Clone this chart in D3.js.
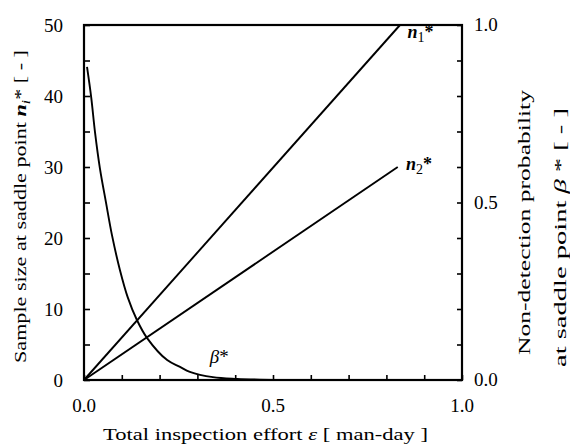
<!DOCTYPE html>
<html>
<head>
<meta charset="utf-8">
<script src="https://cdn.jsdelivr.net/npm/d3@7"></script>
<style>
	body { margin: 0; background: #fff; }
</style>
</head>
<body>
<div id="chart"></div>
<script>
let width = 570,
	height = 447;

let margin = { left: 84, right: 108, top: 25, bottom: 67 };
let serif = "'Liberation Serif'";

// n1* and n2* (straight lines) [effort, sample size]
let n1Data = [[0, 0], [0.836, 50]];
let n2Data = [[0, 0], [0.83, 30]];

// beta* [effort, probability]
let betaEffort = [0.008, 0.019, 0.029, 0.042, 0.058, 0.074, 0.095, 0.116, 0.140, 0.167, 0.220, 0.254, 0.280, 0.341, 0.405, 0.52];
let betaValue  = [0.882, 0.797, 0.699, 0.597, 0.501, 0.408, 0.310, 0.232, 0.169, 0.118, 0.056, 0.037, 0.023, 0.008, 0.003, 0.0];

let xTicks = [0, 0.5, 1.0];
let leftTicks = [0, 10, 20, 30, 40, 50];
let rightTicks = [0, 0.5, 1.0];

let svg = d3.select('#chart').append('svg')
	.attr('width', width)
	.attr('height', height);

function txt(sel) {
	return sel.append('text').style('font-family', serif).attr('fill', '#000');
}

let x = d3.scaleLinear().domain([0, 1]).range([margin.left, width - margin.right]);
let yL = d3.scaleLinear().domain([0, 50]).range([height - margin.bottom, margin.top]);
let yR = d3.scaleLinear().domain([0, 1]).range([height - margin.bottom, margin.top]);

// tick marks (inward, no labels)
let bottomAxis = d3.axisTop(x).tickValues(d3.range(0, 1.01, 0.1)).tickSize(5).tickFormat('');
let leftAxis = d3.axisRight(yL).tickValues(d3.range(0, 51, 5)).tickSize(6).tickFormat('');
let rightAxis = d3.axisLeft(yR).tickValues(d3.range(0, 1.01, 0.1)).tickSize(5).tickFormat('');

svg.append('g').attr('transform', 'translate(0,' + yL(0) + ')').call(bottomAxis);
svg.append('g').attr('transform', 'translate(' + x(0) + ',0)').call(leftAxis);
svg.append('g').attr('transform', 'translate(' + x(1) + ',0)').call(rightAxis);

svg.selectAll('.domain').remove();
svg.selectAll('.tick line').attr('stroke', '#000').attr('stroke-width', 1.6);

// frame
svg.append('rect')
	.attr('x', x(0)).attr('y', yL(50))
	.attr('width', x(1) - x(0)).attr('height', yL(0) - yL(50))
	.attr('fill', 'none').attr('stroke', '#000').attr('stroke-width', 2.2);

// tick labels
xTicks.forEach(function (d) {
	txt(svg).attr('x', x(d)).attr('y', yL(0) + 32)
		.attr('text-anchor', 'middle').style('font-size', '19px')
		.text(d.toFixed(1));
});

leftTicks.forEach(function (d) {
	txt(svg).attr('x', x(0) - 21).attr('y', yL(d) + 6.5)
		.attr('text-anchor', 'end').style('font-size', '19px')
		.text(d);
});

rightTicks.forEach(function (d) {
	txt(svg).attr('x', x(1) + 12).attr('y', yR(d) + 6)
		.attr('text-anchor', 'start').style('font-size', '19px')
		.text(d.toFixed(1));
});

// lines
let lineL = d3.line().x(d => x(d[0])).y(d => yL(d[1]));
let betaPts = betaEffort.map((e, i) => [e, betaValue[i]]);
let lineR = d3.line().x(d => x(d[0])).y(d => yR(d[1])).curve(d3.curveCatmullRom);

svg.append('path').datum(n1Data).attr('d', lineL)
	.attr('fill', 'none').attr('stroke', '#000').attr('stroke-width', 1.9);
svg.append('path').datum(n2Data).attr('d', lineL)
	.attr('fill', 'none').attr('stroke', '#000').attr('stroke-width', 1.9);
svg.append('path').datum(betaPts).attr('d', lineR)
	.attr('fill', 'none').attr('stroke', '#000').attr('stroke-width', 1.9);

// curve labels
function starLabel(px, py, sub) {
	let t = txt(svg).attr('x', px).attr('y', py).style('font-size', '18px');
	t.append('tspan').style('font-style', 'italic').style('font-weight', 'bold').text('n');
	t.append('tspan').attr('dy', 4).style('font-size', '14px').text(sub);
	t.append('tspan').attr('dy', -4).style('font-weight', 'bold').text('*');
}
starLabel(x(0.856), yL(48.2), '1');
starLabel(x(0.852), yL(29.6), '2');

let bl = txt(svg).attr('x', x(0.333)).attr('y', yR(0.048)).style('font-size', '19px');
bl.append('tspan').style('font-style', 'italic').text('β');
bl.append('tspan').text('*');

// axis titles
let xt = txt(svg)
	.attr('x', 265.5).attr('y', 440)
	.attr('text-anchor', 'middle').style('font-size', '17px')
	.attr('textLength', 325).attr('lengthAdjust', 'spacingAndGlyphs');
xt.append('tspan').text('Total inspection effort ');
xt.append('tspan').style('font-style', 'italic').text('ε');
xt.append('tspan').text(' [ man-day ]');

let lt = txt(svg)
	.attr('transform', 'translate(26,206.5) rotate(-90)')
	.attr('text-anchor', 'middle').style('font-size', '17px')
	.attr('textLength', 313).attr('lengthAdjust', 'spacingAndGlyphs');
lt.append('tspan').text('Sample size at saddle point ');
lt.append('tspan').style('font-style', 'italic').style('font-weight', 'bold').text('n');
lt.append('tspan').attr('dy', 4).style('font-size', '12px').style('font-style', 'italic').text('i');
lt.append('tspan').attr('dy', -4).text('* [ - ]');

txt(svg)
	.attr('transform', 'translate(530,222.5) rotate(-90)')
	.attr('text-anchor', 'middle').style('font-size', '17px')
	.attr('textLength', 265).attr('lengthAdjust', 'spacingAndGlyphs')
	.text('Non-detection probability');

let rt = txt(svg)
	.attr('transform', 'translate(566,237.5) rotate(-90)')
	.attr('text-anchor', 'middle').style('font-size', '17px')
	.attr('textLength', 259).attr('lengthAdjust', 'spacingAndGlyphs');
rt.append('tspan').text('at saddle point ');
rt.append('tspan').style('font-style', 'italic').text('β');
rt.append('tspan').text(' * [ - ]');
</script>
</body>
</html>
